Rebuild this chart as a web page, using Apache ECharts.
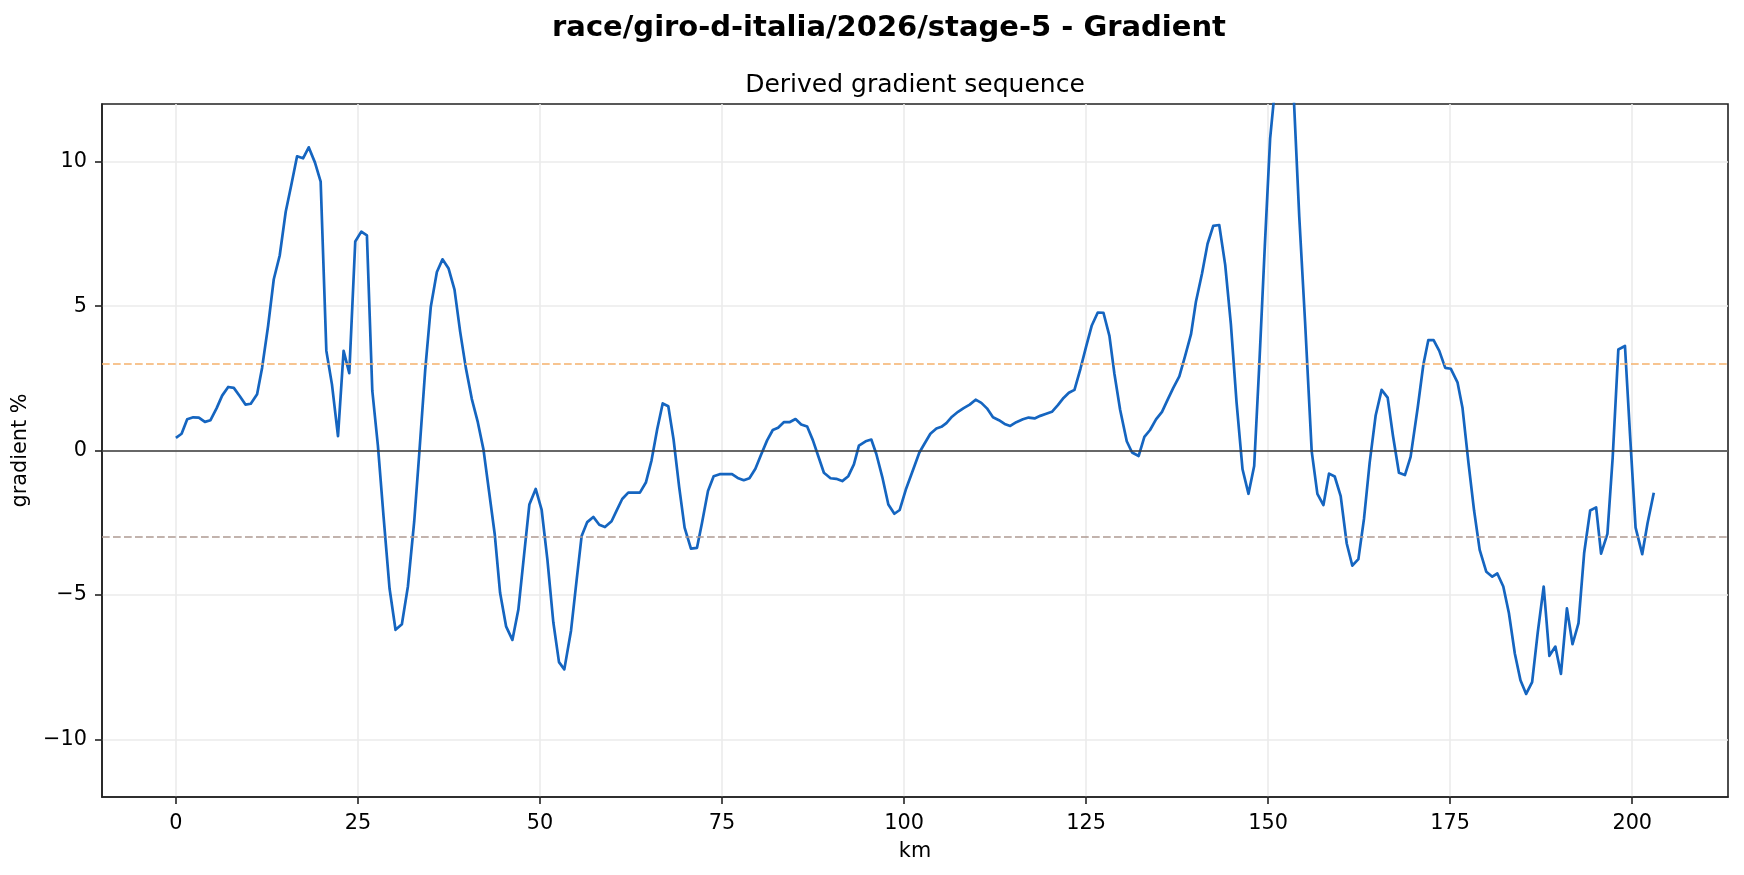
<!DOCTYPE html>
<html>
<head>
<meta charset="utf-8">
<script src="https://cdn.jsdelivr.net/npm/echarts@6/dist/echarts.min.js"></script>
<style>
html,body{margin:0;padding:0;background:#ffffff;}
#chart{width:1744px;height:875px;}
</style>
</head>
<body>
<div id="chart"></div>
<script>
const titleText = 'race/giro-d-italia/2026/stage-5 - Gradient';
const subtitleText = 'Derived gradient sequence';
const xAxisName = 'km';
const yAxisName = 'gradient %';

const kmValues = [
  0.0, 0.78, 1.55, 2.38, 3.15, 3.98, 4.75, 5.58, 6.35, 7.18,
  7.95, 8.78, 9.55, 10.28, 11.15, 11.84, 12.66, 13.44, 14.26, 15.08,
  15.86, 16.64, 17.46, 18.24, 19.10, 19.88, 20.66, 21.43, 22.26, 23.03,
  23.81, 24.63, 25.46, 26.23, 26.97, 27.74, 28.52, 29.34, 30.16, 31.03,
  31.86, 32.73, 33.46, 34.24, 35.01, 35.84, 36.61, 37.45, 38.26, 39.04,
  39.81, 40.64, 41.46, 42.24, 43.01, 43.78, 44.52, 45.34, 46.21, 47.03,
  47.81, 48.54, 49.41, 50.23, 51.01, 51.83, 52.61, 53.34, 54.26, 55.03,
  55.72, 56.49, 57.32, 58.14, 58.92, 59.83, 60.52, 61.29, 62.12, 62.92,
  63.72, 64.54, 65.32, 66.09, 66.85, 67.62, 68.34, 69.12, 69.86, 70.73,
  71.56, 72.24, 73.07, 73.85, 74.67, 75.45, 76.37, 77.15, 77.98, 78.76,
  79.58, 80.36, 81.19, 81.97, 82.70, 83.48, 84.26, 85.09, 85.87, 86.69,
  87.47, 88.21, 88.99, 89.90, 90.68, 91.51, 92.34, 93.11, 93.80, 94.72,
  95.50, 96.19, 97.01, 97.84, 98.67, 99.40, 100.23, 101.25, 102.10, 102.84,
  103.61, 104.44, 105.12, 105.81, 106.58, 107.41, 108.18, 109.01, 109.83, 110.61,
  111.38, 112.21, 113.03, 113.81, 114.58, 115.41, 116.32, 117.10, 117.92, 118.70,
  119.52, 120.30, 121.12, 121.90, 122.63, 123.40, 124.22, 125.00, 125.78, 126.60,
  127.38, 128.20, 128.89, 129.67, 130.58, 131.31, 132.22, 133.00, 133.78, 134.60,
  135.42, 136.20, 136.97, 137.80, 138.58, 139.40, 140.08, 140.91, 141.68, 142.46,
  143.28, 144.10, 144.88, 145.66, 146.48, 147.30, 148.08, 148.77, 149.54, 150.27,
  151.07, 151.87, 152.67, 153.47, 154.27, 155.07, 155.98, 156.76, 157.59, 158.36,
  159.14, 159.96, 160.79, 161.56, 162.39, 163.16, 163.94, 164.76, 165.58, 166.41,
  167.14, 167.96, 168.78, 169.56, 170.54, 171.31, 171.99, 172.72, 173.50, 174.32,
  175.09, 176.00, 176.68, 177.50, 178.28, 179.05, 179.96, 180.78, 181.47, 182.29,
  183.06, 183.88, 184.65, 185.43, 186.25, 187.02, 187.84, 188.62, 189.44, 190.21,
  191.03, 191.80, 192.62, 193.40, 194.22, 195.04, 195.72, 196.59, 197.31, 198.09,
  199.00, 199.68, 200.46, 201.37, 202.10, 202.96
];

const gradientValues = [
  0.44, 0.58, 1.08, 1.15, 1.14, 0.99, 1.05, 1.46, 1.90, 2.20,
  2.17, 1.88, 1.59, 1.62, 1.95, 2.87, 4.31, 5.93, 6.76, 8.27,
  9.21, 10.19, 10.12, 10.50, 9.97, 9.31, 3.45, 2.29, 0.50, 3.45,
  2.68, 7.24, 7.58, 7.45, 2.07, 0.17, -2.30, -4.78, -6.21, -6.02,
  -4.71, -2.45, 0.03, 2.80, 4.99, 6.18, 6.62, 6.30, 5.57, 4.11,
  2.87, 1.78, 0.98, 0.03, -1.43, -2.89, -4.93, -6.09, -6.56, -5.51,
  -3.62, -1.87, -1.33, -2.06, -3.76, -5.95, -7.33, -7.58, -6.24, -4.49,
  -2.96, -2.48, -2.30, -2.57, -2.65, -2.45, -2.08, -1.68, -1.46, -1.46,
  -1.46, -1.11, -0.34, 0.73, 1.63, 1.53, 0.39, -1.28, -2.67, -3.40,
  -3.37, -2.52, -1.40, -0.89, -0.82, -0.82, -0.82, -0.95, -1.03, -0.96,
  -0.63, -0.15, 0.35, 0.71, 0.79, 0.98, 0.98, 1.09, 0.90, 0.83,
  0.36, -0.19, -0.77, -0.96, -0.98, -1.06, -0.89, -0.48, 0.17, 0.32,
  0.38, -0.12, -0.92, -1.87, -2.19, -2.06, -1.36, -0.66, -0.07, 0.25,
  0.58, 0.76, 0.82, 0.95, 1.17, 1.34, 1.47, 1.59, 1.76, 1.65,
  1.46, 1.15, 1.05, 0.92, 0.85, 0.98, 1.08, 1.14, 1.11, 1.20,
  1.27, 1.34, 1.57, 1.82, 2.00, 2.10, 2.83, 3.60, 4.33, 4.78,
  4.77, 3.97, 2.65, 1.41, 0.32, -0.07, -0.19, 0.47, 0.71, 1.08,
  1.34, 1.76, 2.17, 2.57, 3.26, 4.02, 5.15, 6.12, 7.16, 7.78,
  7.81, 6.43, 4.38, 1.67, -0.65, -1.50, -0.54, 2.91, 7.08, 10.80,
  12.90, 14.60, 14.80, 12.50, 8.10, 4.45, -0.03, -1.50, -1.89, -0.80,
  -0.90, -1.58, -3.22, -3.99, -3.76, -2.37, -0.42, 1.21, 2.10, 1.83,
  0.51, -0.77, -0.85, -0.22, 1.49, 2.97, 3.82, 3.82, 3.45, 2.86,
  2.83, 2.36, 1.49, -0.41, -2.08, -3.44, -4.20, -4.37, -4.26, -4.71,
  -5.63, -7.04, -7.96, -8.43, -8.02, -6.31, -4.71, -7.11, -6.79, -7.74,
  -5.47, -6.71, -5.98, -3.54, -2.08, -1.97, -3.57, -2.89, -0.26, 3.50,
  3.62, 0.61, -2.67, -3.59, -2.52, -1.46
];

const xTicks = [0, 25, 50, 75, 100, 125, 150, 175, 200];
const yTicks = [-10, -5, 0, 5, 10];
const xRange = [-10.15, 213.15];
const yRange = [-12, 12];
const upperThreshold = 3;
const lowerThreshold = -3;
const baselineValue = 0;

const FONT = 'DejaVu Sans';
const lineData = kmValues.map((k, i) => [k, gradientValues[i]]);
const fmt = v => (v < 0 ? '\u2212' + Math.abs(v) : String(v));

const chart = echarts.init(document.getElementById('chart'), null, {renderer: 'canvas'});

const option = {
  backgroundColor: '#ffffff',
  animation: false,
  textStyle: {fontFamily: FONT},
  graphic: [
    {
      type: 'text', x: 889, y: 28,
      style: {text: titleText, x: 0, y: 0, align: 'center', verticalAlign: 'middle',
        font: 'bold 29px "DejaVu Sans"', fill: '#000000'}
    },
    {
      type: 'text', x: 915, y: 85,
      style: {text: subtitleText, x: 0, y: 0, align: 'center', verticalAlign: 'middle',
        font: '25px "DejaVu Sans"', fill: '#000000'}
    }
  ],
  grid: {
    left: 102, top: 104, width: 1626, height: 693,
    show: true, borderColor: '#222222', borderWidth: 1.6, backgroundColor: 'transparent',
    containLabel: false, outerBoundsMode: 'none'
  },
  xAxis: {
    type: 'value', min: xRange[0], max: xRange[1], position: 'bottom',
    name: xAxisName, nameLocation: 'middle', nameGap: 44,
    nameTextStyle: {fontFamily: FONT, fontSize: 20.8, color: '#000000'},
    axisLine: {show: true, onZero: false, lineStyle: {color: '#222222', width: 1.6}},
    axisTick: {show: true, length: 7, inside: false, customValues: xTicks,
      lineStyle: {color: '#222222', width: 1.6}},
    axisLabel: {show: true, customValues: xTicks, margin: 16, fontFamily: FONT, fontSize: 20.8,
      color: '#000000', formatter: fmt},
    splitLine: {show: true, lineStyle: {color: '#ebebeb', width: 1.6}}
  },
  yAxis: {
    type: 'value', min: yRange[0], max: yRange[1], position: 'left',
    name: yAxisName, nameLocation: 'middle', nameGap: 71, nameRotate: 90,
    nameTextStyle: {fontFamily: FONT, fontSize: 20.8, color: '#000000'},
    axisLine: {show: true, onZero: false, lineStyle: {color: '#222222', width: 1.6}},
    axisTick: {show: true, length: 7, inside: false, customValues: yTicks,
      lineStyle: {color: '#222222', width: 1.6}},
    axisLabel: {show: true, customValues: yTicks, margin: 15, fontFamily: FONT, fontSize: 20.8,
      color: '#000000', formatter: fmt},
    splitLine: {show: true, lineStyle: {color: '#ebebeb', width: 1.6}}
  },
  series: [
    {
      type: 'line', data: [], silent: true, z: 1,
      markLine: {
        silent: true, symbol: ['none', 'none'], label: {show: false}, animation: false,
        data: [
          {yAxis: upperThreshold, lineStyle: {color: '#f5b16c', width: 1.6, type: [7.7, 3.3]}},
          {yAxis: lowerThreshold, lineStyle: {color: '#ae9a93', width: 1.6, type: [7.7, 3.3]}},
          {yAxis: baselineValue, lineStyle: {color: '#3a3a3a', width: 1.7, type: 'solid'}}
        ]
      }
    },
    {
      type: 'line', data: lineData, showSymbol: false, symbol: 'none', z: 3,
      clip: true, smooth: false,
      lineStyle: {color: '#1565c0', width: 2.7, join: 'round', cap: 'butt'}
    }
  ]
};
chart.setOption(option);
</script>
</body>
</html>
